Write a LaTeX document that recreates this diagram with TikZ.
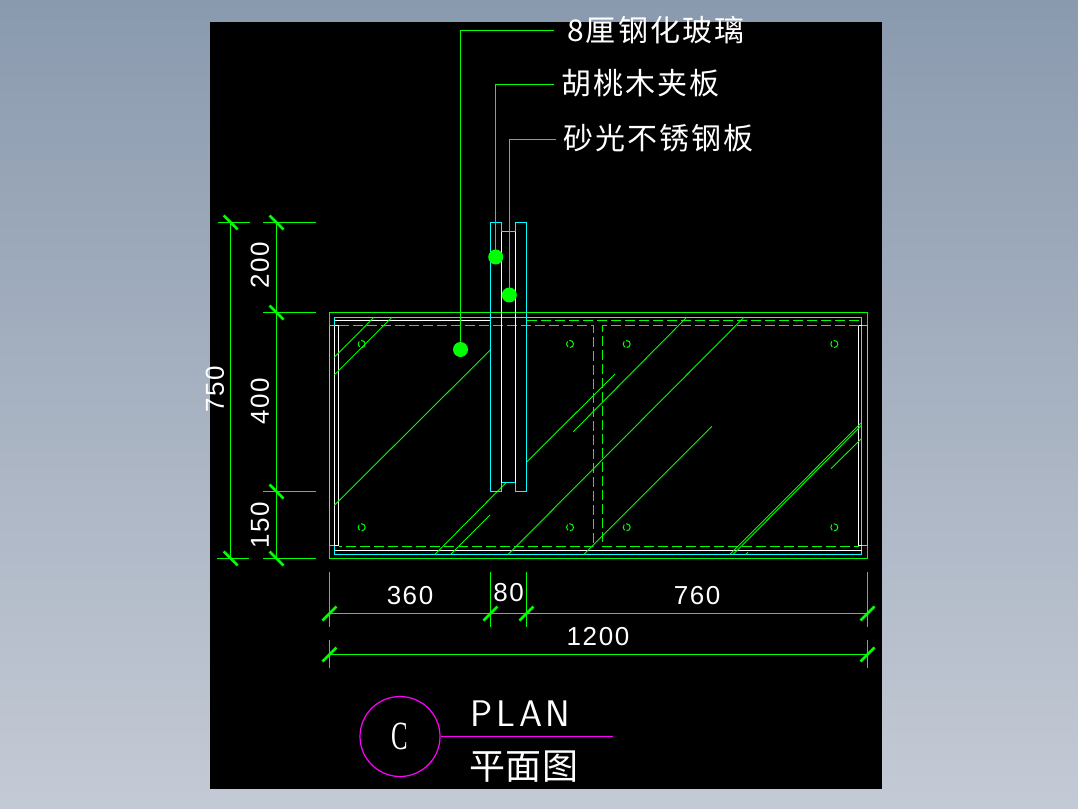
\documentclass[tikz,border=0pt]{standalone}
\usepackage{fontspec}
\setmainfont{Liberation Sans}
\newfontfamily\cjkf[LetterSpace=7]{Noto Sans CJK SC}
\newfontfamily\cjkg[LetterSpace=1.5]{Noto Sans CJK SC}
\newfontfamily\dimf[LetterSpace=6]{Liberation Sans}
\newfontfamily\serf{Liberation Serif}
\definecolor{grn}{HTML}{00FF00}
\definecolor{cyn}{HTML}{00FFFF}
\definecolor{mag}{HTML}{FF00FF}
\definecolor{bgtop}{HTML}{8A9AAE}
\definecolor{bgbot}{HTML}{C4CAD5}
\tikzset{
  x=1pt,y=-1pt,
  gl/.style={grn,line width=1.2pt},
  cy/.style={cyn,line width=1.2pt},
  wh/.style={white,line width=1.2pt},
  dsh/.style={grn,line width=1.3pt,dash pattern=on 10pt off 4pt},
  hatch/.style={grn,line width=0.9pt},
  tick/.style={grn,line width=2.6pt},
  dot/.style={circle,fill=grn,draw=none,minimum size=15pt,inner sep=0pt},
  hole/.style={circle,draw=grn,line width=1pt,dash pattern=on 6pt off 2pt,minimum size=7pt,inner sep=0pt},
  dimt/.style={white,inner sep=0pt,font=\dimf\fontsize{26}{26}\selectfont},
  cjkl/.style={white,inner sep=0pt,anchor=west,font=\cjkf\fontsize{30}{30}\selectfont},
}
\begin{document}
\begin{tikzpicture}
\useasboundingbox (0,0) rectangle (1078,808);
\shade[top color=bgtop,bottom color=bgbot] (0,0) rectangle (1078,808);
\fill[black] (210,22) rectangle (882,789);

% plan outline
\draw[gl] (329.5,312.5) rectangle (867.5,558.5);
\draw[cy] (334.5,317.5) rectangle (861.5,554.5);
\draw[wh] (334.5,320.5) -- (490.5,320.5);
\draw[wh] (334.5,550.5) -- (861.5,550.5);
\draw[cy] (329.5,325.5) -- (334.5,325.5);
\draw[cy] (329.5,545.5) -- (334.5,545.5);
\draw[cy] (329.5,325.5) -- (329.5,545.5);
\draw[cy] (861.5,325.5) -- (867.5,325.5);
\draw[cy] (861.5,545.5) -- (867.5,545.5);
\draw[cy] (867.5,325.5) -- (867.5,545.5);
\draw[wh] (334.5,325.5) -- (338.5,325.5) -- (338.5,545.5) -- (334.5,545.5);
\draw[wh] (861.5,325.5) -- (858.5,325.5) -- (858.5,545.5) -- (861.5,545.5);
\draw[wh] (334.5,325.5) -- (334.5,545.5);

% dashed
\draw[dsh] (527,320.5) -- (861,320.5);
\draw[dsh] (338.5,325.5) -- (593.5,325.5) -- (593.5,546.5) -- (338.5,546.5);
\draw[dsh] (858.5,325.5) -- (602.5,325.5) -- (602.5,546.5) -- (858.5,546.5);

% hatch
\draw[hatch] (334.3,357.3) -- (374,317.3);
\draw[hatch] (334.3,375) -- (392,317.3);
\draw[hatch] (334.3,505.3) -- (490.3,350);
\draw[hatch] (435,554.3) -- (506,482.7);
\draw[hatch] (450.7,554.3) -- (490,515);
\draw[hatch] (526.7,462) -- (615,374);
\draw[hatch] (573.3,431.7) -- (686.7,317.3);
\draw[hatch] (508.3,554.3) -- (744,317.3);
\draw[hatch] (584,554.3) -- (712,426.3);
\draw[hatch] (730,554.3) -- (860.7,423.3);
\draw[hatch] (733.3,554.3) -- (861.7,425);
\draw[hatch] (831,468.7) -- (861.7,438.3);
\draw[hatch] (746,554.3) -- (748,552.3);

% holes
\foreach \n/\hx/\hy in {a/361.7/344,b/570/344,c/361.7/527.3,d/570/527.3,e/626.7/344,f/834.3/344,g/626.7/527.3,h/834.3/527.3}
  \node[hole] (hole\n) at (\hx,\hy) {};

% post
\draw[cy] (501.5,231.5) -- (501.5,222.5) -- (490.5,222.5) -- (490.5,491.5) -- (501.5,491.5) -- (501.5,482.5) -- (515.5,482.5) -- (515.5,491.5) -- (526.5,491.5) -- (526.5,222.5) -- (515.5,222.5) -- (515.5,231.5) -- cycle;
\draw[wh] (501.5,231.5) -- (501.5,482.5);
\draw[wh] (515.5,231.5) -- (515.5,482.5);

% leaders
\node[dot] (dg) at (460.5,349.5) {};
\node[dot] (dw) at (495.7,257) {};
\node[dot] (ds) at (509.3,295) {};
\coordinate (eg) at (553.5,30.5);
\coordinate (ew) at (553.5,84.5);
\coordinate (es) at (555.5,139.5);
\draw[gl] (dg.center) |- (eg);
\draw[gl] (dw.center) |- (ew);
\draw[gl] (ds.center) |- (es);
\node[cjkl] (tg) at (567,30) {8厘钢化玻璃};
\node[cjkl] (tw) at (561,83) {胡桃木夹板};
\node[cjkl] (ts) at (563,138) {砂光不锈钢板};

% vertical dimensions
\coordinate (a1) at (230.7,222.5);
\coordinate (a2) at (230.7,558.5);
\draw[gl] (a1) -- (a2);
\draw[gl] (218,222.5) -- (250,222.5);
\draw[gl] (217,558.5) -- (249,558.5);
\foreach \c in {a1,a2} \draw[tick] ([shift={(-7,-7)}]\c) -- ([shift={(7,7)}]\c);
\coordinate (b1) at (276.5,222.5);
\coordinate (b2) at (276.5,312.5);
\coordinate (b3) at (276.5,491.5);
\coordinate (b4) at (276.5,558.5);
\draw[gl] (b1) -- (b4);
\foreach \c in {b1,b2,b3,b4} {
  \draw[gl] ([xshift=-13.5]\c) -- ([xshift=39.5]\c);
  \draw[tick] ([shift={(-7,-7)}]\c) -- ([shift={(7,7)}]\c);
}
\node[dimt,rotate=90] (t200) at (260,265.7) {200};
\node[dimt,rotate=90] (t400) at (260,401) {400};
\node[dimt,rotate=90] (t150) at (260,525) {150};
\node[dimt,rotate=90] (t750) at (215,389) {750};

% horizontal dimensions
\coordinate (c1) at (329.5,613.5);
\coordinate (c2) at (490.5,613.5);
\coordinate (c3) at (526.5,613.5);
\coordinate (c4) at (867.5,613.5);
\draw[gl] (c1) -- (c4);
\foreach \c in {c1,c2,c3,c4} {
  \draw[gl] ([yshift=41.5]\c) -- ([yshift=-13.5]\c);
  \draw[tick] ([shift={(-7,7)}]\c) -- ([shift={(7,-7)}]\c);
}
\coordinate (d1) at (329.5,654.5);
\coordinate (d2) at (867.5,654.5);
\draw[gl] (d1) -- (d2);
\foreach \c in {d1,d2} {
  \draw[gl] ([yshift=14.5]\c) -- ([yshift=-13.5]\c);
  \draw[tick] ([shift={(-7,7)}]\c) -- ([shift={(7,-7)}]\c);
}
\node[dimt] (t360) at (410,596) {360};
\node[dimt] (t80) at (508.5,593) {80};
\node[dimt] (t760) at (697,596) {760};
\node[dimt] (t1200) at (598,637) {1200};

% section mark
\node[circle,draw=mag,line width=1.2pt,minimum size=80pt,inner sep=0pt,text=white,font=\serf\fontsize{40}{40}\selectfont] (sec) at (400,736.5) {\scalebox{0.62}[1]{C}};
\coordinate (secend) at (612.7,736.5);
\draw[mag,line width=1.2pt] (sec.east) -- (secend);
\node[white,inner sep=0pt,anchor=west,font=\sffamily\fontsize{37}{37}\selectfont] (plan) at (470.5,713.5) {P\kern3.7pt L\kern3.7pt A\kern3.7pt N};
\node[white,inner sep=0pt,anchor=west,font=\cjkg\fontsize{36}{36}\selectfont] (plancn) at (469,766.5) {平面图};
\end{tikzpicture}
\end{document}
